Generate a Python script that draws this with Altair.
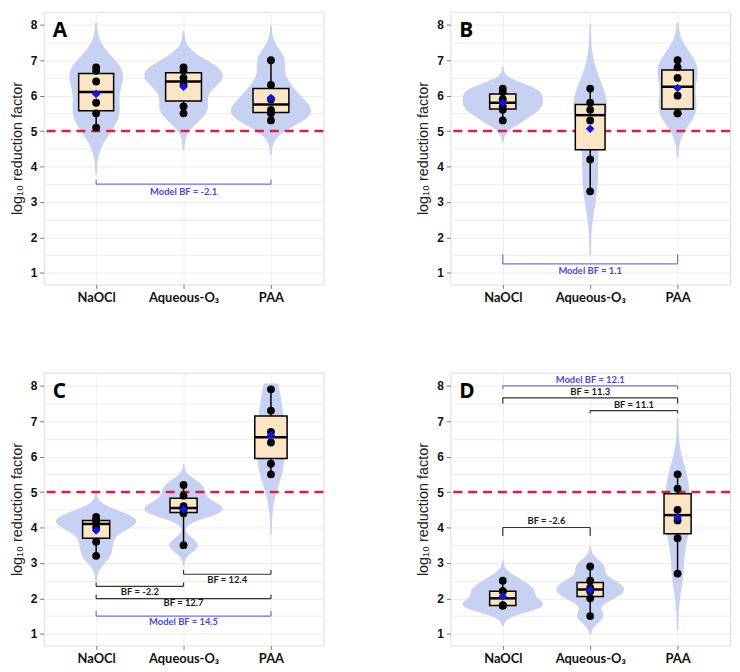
import altair as alt
import numpy as np
import pandas as pd

# ---------------- data ----------------
categories = ["NaOCl", "Aqueous-O₃", "PAA"]
panel_letters = ["A", "B", "C", "D"]

a_naocl = [5.1, 5.5, 5.8, 6.4, 6.7, 6.8]
a_ozone = [5.5, 5.7, 6.3, 6.5, 6.7, 6.8]
a_paa = [5.3, 5.5, 5.6, 5.9, 6.3, 7.0]

b_naocl = [5.3, 5.6, 5.7, 5.9, 6.1, 6.2]
b_ozone = [3.3, 4.2, 5.3, 5.6, 5.8, 6.2]
b_paa = [5.5, 5.5, 6.0, 6.5, 6.8, 7.0]

c_naocl = [3.2, 3.6, 4.0, 4.2, 4.2, 4.3]
c_ozone = [3.5, 4.4, 4.5, 4.6, 4.9, 5.2]
c_paa = [5.5, 5.8, 6.4, 6.7, 7.3, 7.9]

d_naocl = [1.8, 1.8, 1.8, 2.2, 2.2, 2.5]
d_ozone = [1.5, 2.0, 2.2, 2.3, 2.5, 2.9]
d_paa = [2.7, 3.7, 4.2, 4.5, 5.1, 5.5]

threshold = 5.0
violin_limits = [1.0, 8.05]

# brackets: (from category, to category, line level, tick end, label level, label, kind)
a_brackets = [(1, 3, 3.50, 3.63, 3.28, "Model BF = -2.1", "model")]
b_brackets = [(1, 3, 1.25, 1.52, 1.05, "Model BF = 1.1", "model")]
c_brackets = [
    (2, 3, 2.68, 2.80, 2.52, "BF = 12.4", "pair"),
    (1, 2, 2.34, 2.45, 2.18, "BF = -2.2", "pair"),
    (1, 3, 1.99, 2.10, 1.87, "BF = 12.7", "pair"),
    (1, 3, 1.50, 1.64, 1.34, "Model BF = 14.5", "model"),
]
d_brackets = [
    (1, 3, 8.00, 7.90, 8.17, "Model BF = 12.1", "model"),
    (1, 3, 7.66, 7.50, 7.82, "BF = 11.3", "pair"),
    (2, 3, 7.30, 7.22, 7.46, "BF = 11.1", "pair"),
    (1, 2, 4.00, 3.76, 4.18, "BF = -2.6", "pair"),
]

# box half-widths (style)
box_half = {"A": [0.2, 0.205, 0.205], "B": [0.15, 0.17, 0.18],
            "C": [0.155, 0.155, 0.185], "D": [0.15, 0.15, 0.155]}

panels = {
    "A": ([a_naocl, a_ozone, a_paa], a_brackets),
    "B": ([b_naocl, b_ozone, b_paa], b_brackets),
    "C": ([c_naocl, c_ozone, c_paa], c_brackets),
    "D": ([d_naocl, d_ozone, d_paa], d_brackets),
}

# ---------------- style ----------------
W, H = 282, 275
VIOLIN = "#C7D2F3"
BOXFILL = "#FCE5C6"
RED = "#D81E4B"
MODEL_LINE = "#7474D6"
MODEL_TEXT = "#4B4BC8"
PAIR_LINE = "#333333"
LABEL_FONT = "Lato"
TICK_FONT = "Liberation Sans"

x_scale = alt.Scale(domain=[0.4, 3.6], nice=False, zero=False)
y_scale = alt.Scale(domain=[0.67, 8.37], nice=False, zero=False)

label_expr = " : ".join(
    f"datum.value == {i + 1} ? '{c}'" for i, c in enumerate(categories)
) + " : ''"

x_axis = alt.Axis(values=[1, 2, 3], labelExpr=label_expr, title=None, domain=False,
                  grid=True, gridColor="#EEEEF2", gridWidth=1, tickColor="#777777",
                  tickSize=4, labelFont=LABEL_FONT, labelFontWeight="bold",
                  labelFontSize=13, labelColor="#111111", labelPadding=3)
y_axis = alt.Axis(values=[v / 2 for v in range(2, 17)],
                  labelExpr="datum.value % 1 == 0 ? format(datum.value, 'd') : ''",
                  tickOpacity={"condition": {"test": "datum.value % 1 != 0", "value": 0}, "value": 1},
                  title="log₁₀ reduction factor", titleFont=TICK_FONT,
                  titleFontSize=14.5, titleFontWeight="normal", titleColor="#222222",
                  titlePadding=6, domain=False, grid=True, gridColor="#EBEBF0",
                  gridWidth=1, tickColor="#777777", tickSize=4,
                  labelFont=TICK_FONT, labelFontWeight="bold", labelFontSize=12,
                  labelColor="#111111", labelPadding=3)


def X(field):
    return alt.X(field, type="quantitative", scale=x_scale, axis=x_axis, stack=None)


def Y(field):
    return alt.Y(field, type="quantitative", scale=y_scale, axis=y_axis, stack=None)


def violin_frame(groups):
    rows = []
    dens_all = []
    for i, vals in enumerate(groups):
        v = np.asarray(vals, dtype=float)
        n = len(v)
        sd = v.std(ddof=1)
        q75, q25 = np.percentile(v, [75, 25])
        bw = 0.9 * min(sd, (q75 - q25) / 1.34) * n ** -0.2
        ys = np.linspace(v.min() - 3 * bw, v.max() + 3 * bw, 300)
        d = np.exp(-0.5 * ((ys[:, None] - v[None, :]) / bw) ** 2).sum(1) / (n * bw * np.sqrt(2 * np.pi))
        keep = (ys >= violin_limits[0]) & (ys <= violin_limits[1])
        dens_all.append((i + 1, ys[keep], d[keep]))
    mx = max(d.max() for _, _, d in dens_all)
    for cat, ys, d in dens_all:
        for yv, dv in zip(ys, d):
            rows.append({"cat": cat, "y": float(yv),
                         "lo": cat - 0.45 * dv / mx, "hi": cat + 0.45 * dv / mx})
    return pd.DataFrame(rows)


def make_panel(letter):
    groups, brackets = panels[letter]
    pts = pd.DataFrame([{"cat": i + 1, "value": v, "bh": box_half[letter][i]}
                        for i, g in enumerate(groups) for v in g])
    vio = violin_frame(groups)

    violin = alt.Chart(vio).mark_area(orient="horizontal", color=VIOLIN, opacity=1,
                                      stroke=VIOLIN, strokeWidth=1.5,
                                      strokeJoin="round").encode(
        y=Y("y"), x=X("lo"), x2="hi:Q", detail="cat:N"
    )

    ref = alt.Chart(pd.DataFrame({"y": [threshold]})).mark_rule(
        color=RED, strokeWidth=2.6, strokeDash=[9, 6]
    ).encode(y=Y("y"))

    stats = alt.Chart(pts).transform_aggregate(
        q1="q1(value)", med="median(value)", q3="q3(value)",
        lo="min(value)", hi="max(value)", mean="mean(value)", bh="max(bh)",
        groupby=["cat"]
    ).transform_calculate(xl="datum.cat - datum.bh", xr="datum.cat + datum.bh")

    whisker = stats.mark_rule(color="black", strokeWidth=1.5).encode(
        x=X("cat"), y=Y("lo"), y2="hi:Q")
    box = stats.mark_rect(fill=BOXFILL, stroke="black", strokeWidth=1.5).encode(
        x=X("xl"), x2="xr:Q", y=Y("q1"), y2="q3:Q")
    median = stats.mark_rule(color="black", strokeWidth=2.5).encode(
        x=X("xl"), x2="xr:Q", y=Y("med"))
    points = alt.Chart(pts).mark_circle(color="black", opacity=1, size=62).encode(
        x=X("cat"), y=Y("value"))
    mean = stats.mark_point(shape="diamond", filled=True, color="#1414E6",
                            opacity=1, size=75).encode(x=X("cat"), y=Y("mean"))

    br = pd.DataFrame([{"x1": b[0], "x2": b[1], "y": b[2], "tick": b[3], "ty": b[4],
                        "label": b[5], "kind": b[6], "xm": (b[0] + b[1]) / 2}
                       for b in brackets])
    ticks = pd.DataFrame([{"x": b[j], "y": b[2], "tick": b[3], "kind": b[6]}
                          for b in brackets for j in (0, 1)])
    kcolor = alt.Color("kind:N", scale=alt.Scale(domain=["model", "pair"],
                                                  range=[MODEL_LINE, PAIR_LINE]), legend=None)
    tcolor = alt.Color("kind:N", scale=alt.Scale(domain=["model", "pair"],
                                                  range=[MODEL_TEXT, "#1A1A1A"]), legend=None)
    hline = alt.Chart(br).mark_rule(strokeWidth=1.2).encode(
        x=X("x1"), x2="x2:Q", y=Y("y"), color=kcolor)
    vline = alt.Chart(ticks).mark_rule(strokeWidth=1.2).encode(
        x=X("x"), y=Y("y"), y2="tick:Q", color=kcolor)
    btext = alt.Chart(br).mark_text(font=LABEL_FONT, fontWeight="bold", fontSize=9.5,
                                    baseline="middle", align="center").encode(
        x=X("xm"), y=Y("ty"), text="label:N", color=tcolor)

    tag = alt.Chart(pd.DataFrame({"t": [letter]})).mark_text(
        font="Open Sans", fontWeight="bold", fontSize=21, align="left",
        baseline="middle", color="black"
    ).encode(text="t:N", x=alt.value(9), y=alt.value(19))

    return alt.layer(violin, ref, whisker, box, median, points, mean,
                     hline, vline, btext, tag).resolve_scale(color="independent").properties(
        width=W, height=H)


top = alt.hconcat(make_panel("A"), make_panel("B"), spacing=90)
bottom = alt.hconcat(make_panel("C"), make_panel("D"), spacing=90)
chart = alt.vconcat(top, bottom, spacing=67).properties(
    padding={"left": 0, "top": 0, "right": 0, "bottom": 0}
).configure_view(
    fill="#F8F8F9", stroke="#707070", strokeWidth=1.5
).configure(background="white")

chart.save("out.html", embed_options={"renderer": "svg", "actions": False})
